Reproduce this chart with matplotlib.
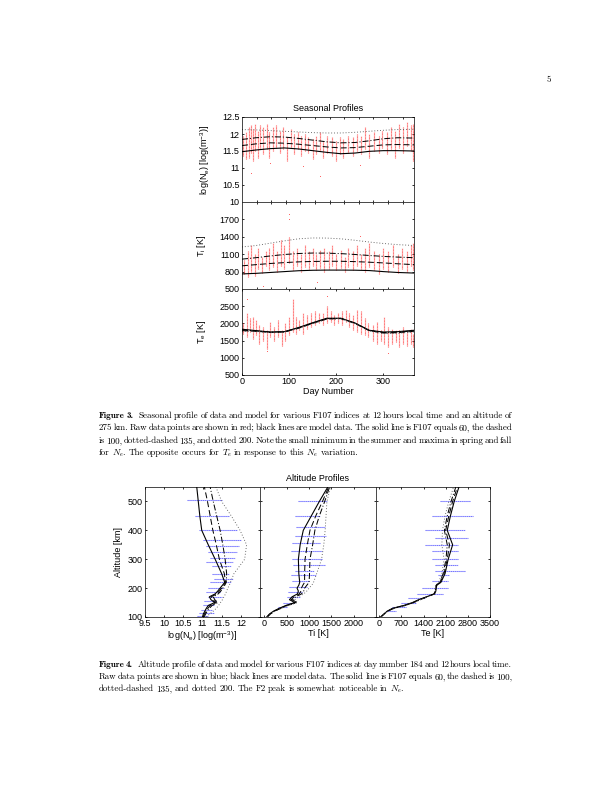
import matplotlib
matplotlib.use('Agg')
import matplotlib.pyplot as plt
import numpy as np

plt.rcParams['font.family'] = ['Liberation Sans', 'DejaVu Sans']
plt.rcParams['font.size'] = 9
plt.rcParams['mathtext.fontset'] = 'custom'
plt.rcParams['mathtext.rm'] = 'Liberation Sans'
plt.rcParams['mathtext.it'] = 'Liberation Sans:italic'
plt.rcParams['xtick.direction'] = 'in'
plt.rcParams['ytick.direction'] = 'in'
plt.rcParams['xtick.top'] = True
plt.rcParams['ytick.right'] = True
plt.rcParams['xtick.major.size'] = 2.2
plt.rcParams['ytick.major.size'] = 2.2
plt.rcParams['xtick.major.pad'] = 2.5
plt.rcParams['ytick.major.pad'] = 2.5
plt.rcParams['axes.linewidth'] = 0.7

# ---- seasonal model (F107 = 60, 100, 135, 200)
days_m = [0, 30, 60, 90, 120, 150, 180, 210, 240, 270, 300, 330, 365]
ne_60 = [11.48, 11.53, 11.57, 11.59, 11.56, 11.51, 11.46, 11.42, 11.44, 11.49, 11.51, 11.51, 11.50]
ne_100 = [11.66, 11.71, 11.74, 11.73, 11.70, 11.66, 11.62, 11.59, 11.60, 11.64, 11.68, 11.69, 11.68]
ne_135 = [11.84, 11.89, 11.92, 11.91, 11.87, 11.82, 11.77, 11.74, 11.75, 11.80, 11.86, 11.89, 11.88]
ne_200 = [12.13, 12.12, 12.10, 12.08, 12.06, 12.04, 12.03, 12.03, 12.05, 12.08, 12.11, 12.13, 12.14]
ti_60 = [760, 770, 785, 800, 815, 823, 826, 826, 824, 818, 800, 785, 775]
ti_100 = [900, 920, 940, 955, 968, 975, 978, 978, 972, 962, 950, 935, 920]
ti_135 = [1015, 1040, 1070, 1095, 1112, 1120, 1118, 1110, 1095, 1078, 1062, 1050, 1040]
ti_200 = [1225, 1250, 1290, 1330, 1365, 1380, 1378, 1365, 1340, 1310, 1285, 1265, 1250]
te_60 = [1830, 1790, 1750, 1760, 1880, 2020, 2150, 2150, 2010, 1800, 1750, 1760, 1800]
te_100 = [1790, 1770, 1740, 1750, 1860, 2000, 2130, 2140, 2000, 1790, 1720, 1730, 1770]
te_135 = [1810, 1780, 1745, 1755, 1870, 2010, 2140, 2145, 2005, 1795, 1735, 1745, 1785]
te_200 = [1770, 1760, 1730, 1745, 1850, 1990, 2120, 2130, 1990, 1780, 1700, 1710, 1750]

# ---- seasonal raw data: vertical streaks (day, low, high)
ne_day = [3, 8, 14, 20, 24, 28, 33, 38, 45, 52, 58, 66, 73, 80, 88, 95, 103, 110, 118, 125,
          133, 140, 150, 158, 165, 172, 180, 190, 200, 208, 215, 225, 235, 245, 253, 262,
          270, 280, 290, 298, 307, 316, 325, 333, 342, 350, 358, 363]
ne_lo = [11.35, 11.25, 11.3, 11.45, 11.2, 11.5, 11.3, 11.6, 11.4, 11.55, 11.3, 11.5, 11.6, 11.45,
         11.55, 11.2, 11.6, 11.4, 11.55, 11.35, 11.5, 11.45, 11.25, 11.4, 11.5, 11.3, 11.45, 11.35,
         11.2, 11.4, 11.3, 11.45, 11.35, 11.5, 11.4, 11.55, 11.3, 11.5, 11.45, 11.6, 11.4, 11.55,
         11.3, 11.6, 11.45, 11.65, 11.5, 11.2]
ne_hi = [11.95, 12.05, 12.2, 12.25, 12.15, 12.3, 12.1, 12.25, 12.2, 12.3, 12.05, 12.2, 12.25, 12.1,
         12.2, 11.9, 12.15, 12.0, 12.05, 11.95, 12.0, 11.9, 11.85, 11.95, 12.05, 11.8, 11.95, 11.9,
         11.8, 11.9, 11.85, 11.95, 11.9, 12.0, 11.95, 12.2, 12.0, 12.05, 11.95, 12.1, 12.05, 12.2,
         12.1, 12.3, 12.2, 12.35, 12.25, 12.3]
ne_out_day = [20, 130, 165, 250, 60]
ne_out_val = [10.85, 11.05, 10.75, 11.1, 11.15]

ti_day = [5, 12, 20, 27, 35, 42, 50, 58, 66, 74, 82, 90, 100, 108, 116, 125, 133, 142, 150, 158,
          166, 175, 184, 192, 200, 210, 218, 226, 235, 244, 252, 260, 270, 280, 290, 300, 310,
          320, 330, 340, 350, 358, 363]
ti_lo = [750, 700, 800, 720, 850, 780, 900, 820, 880, 800, 900, 850, 950, 820, 900, 800, 880, 850,
         900, 820, 870, 800, 850, 900, 820, 860, 790, 880, 830, 900, 850, 800, 880, 820, 760, 850,
         800, 880, 780, 850, 800, 900, 820]
ti_hi = [1000, 1150, 1250, 1100, 1200, 1050, 1150, 1200, 1300, 1150, 1350, 1250, 1400, 1150, 1200,
         1100, 1250, 1150, 1200, 1100, 1180, 1200, 1150, 1250, 1100, 1180, 1050, 1200, 1150, 1250,
         1100, 1200, 1300, 1150, 1100, 1200, 1150, 1250, 1100, 1200, 1150, 1250, 1300]
ti_out_day = [100, 100, 45, 160, 250]
ti_out_val = [1800, 1700, 560, 620, 1420]

te_day = [3, 10, 17, 24, 30, 37, 45, 52, 60, 68, 76, 85, 92, 100, 108, 115, 122, 130, 138, 146,
          155, 163, 172, 180, 188, 196, 204, 212, 220, 228, 236, 244, 252, 260, 268, 278, 286,
          294, 302, 310, 318, 326, 334, 342, 350, 358, 363]
te_lo = [1700, 1600, 1750, 1550, 1650, 1400, 1500, 1250, 1600, 1500, 1600, 1350, 1500, 1650, 1750,
         1700, 1800, 1700, 1850, 1900, 1950, 2000, 1950, 2000, 2050, 1950, 2000, 1950, 2050, 1900,
         1800, 1750, 1700, 1650, 1600, 1500, 1400, 1500, 1400, 1300, 1400, 1450, 1300, 1400, 1350,
         1400, 1300]
te_hi = [2000, 2300, 2150, 2200, 2100, 1950, 1900, 1800, 2050, 1900, 2100, 1800, 2000, 2200, 2700,
         2200, 2100, 2300, 2250, 2300, 2350, 2300, 2300, 2500, 2350, 2250, 2300, 2350, 2400, 2300,
         2250, 2400, 2350, 2150, 2000, 1950, 2050, 1800, 2200, 1900, 1850, 1800, 1800, 1900, 1750,
         1850, 1700]
te_out_day = [10, 180, 52, 310]
te_out_val = [2700, 2800, 1200, 1150]

# ---- altitude model (day 184, 12 LT)
alt_m = [100, 110, 120, 130, 140, 150, 160, 170, 180, 190, 200, 210, 220, 250, 300, 350, 400, 450, 500, 550]
ane_60 = [11.0, 11.02, 11.06, 11.1, 11.15, 11.32, 11.22, 11.18, 11.33, 11.4, 11.46, 11.52, 11.58, 11.5,
          11.33, 11.15, 10.98, 10.93, 10.89, 10.85]
ane_100 = [11.02, 11.05, 11.09, 11.14, 11.2, 11.36, 11.27, 11.23, 11.37, 11.44, 11.5, 11.55, 11.6, 11.57,
           11.44, 11.36, 11.27, 11.2, 11.13, 11.05]
ane_135 = [11.04, 11.08, 11.12, 11.18, 11.25, 11.4, 11.32, 11.28, 11.41, 11.48, 11.53, 11.58, 11.62, 11.63,
           11.59, 11.53, 11.46, 11.37, 11.28, 11.2]
ane_200 = [11.1, 11.18, 11.28, 11.36, 11.42, 11.47, 11.52, 11.56, 11.6, 11.63, 11.66, 11.7, 11.73, 11.82,
           12.1, 12.15, 11.98, 11.75, 11.5, 11.35]
ati_60 = [50, 110, 200, 330, 480, 680, 560, 620, 740, 760, 730, 770, 790, 770, 760, 800, 870, 1050, 1230, 1420]
ati_100 = [60, 120, 215, 350, 500, 700, 600, 660, 780, 820, 830, 860, 900, 900, 910, 960, 1020, 1150, 1300, 1440]
ati_135 = [65, 130, 225, 365, 520, 720, 630, 700, 830, 880, 900, 950, 1000, 1010, 1020, 1080, 1130, 1230, 1350, 1460]
ati_200 = [70, 140, 240, 380, 540, 740, 680, 760, 880, 950, 1000, 1060, 1100, 1170, 1280, 1330, 1360, 1380, 1400, 1480]
ate_60 = [50, 150, 250, 420, 780, 1050, 1250, 1500, 1750, 1790, 1800, 1820, 1950, 2080, 2180, 2320, 2150, 2250, 2370, 2520]
ate_100 = [50, 150, 260, 440, 800, 1070, 1270, 1510, 1740, 1780, 1790, 1810, 1930, 2050, 2150, 2220, 2100, 2200, 2320, 2470]
ate_135 = [50, 150, 270, 460, 820, 1090, 1290, 1520, 1730, 1770, 1780, 1800, 1910, 2020, 2110, 2150, 2060, 2150, 2270, 2420]
ate_200 = [50, 160, 280, 480, 850, 1110, 1310, 1530, 1720, 1760, 1770, 1780, 1880, 1980, 2050, 1980, 2000, 2080, 2200, 2350]

# ---- altitude raw data: horizontal streaks (altitude, low, high)
bne_alt = [505, 450, 400, 365, 345, 325, 305, 290, 275, 250, 230, 220, 200, 185, 170, 155, 140, 125, 115, 105]
bne_lo = [10.6, 10.8, 10.9, 11.0, 11.1, 11.15, 11.2, 11.1, 11.25, 11.25, 11.3, 11.2, 11.15, 11.1, 11.15,
          11.05, 11.0, 10.95, 10.9, 10.85]
bne_hi = [11.5, 11.7, 11.9, 12.0, 11.95, 11.9, 11.85, 11.8, 11.75, 11.7, 11.8, 11.75, 11.55, 11.45, 11.5,
          11.35, 11.3, 11.25, 11.3, 11.15]
bti_alt = [500, 450, 410, 380, 355, 330, 300, 280, 260, 245, 225, 205, 185, 170, 150, 135]
bti_lo = [750, 690, 700, 690, 620, 600, 620, 650, 680, 600, 620, 560, 530, 500, 420, 300]
bti_hi = [1400, 1245, 1350, 1380, 1245, 1300, 1300, 1350, 1100, 1150, 1000, 950, 850, 800, 650, 500]
bte_alt = [500, 450, 400, 375, 350, 330, 300, 280, 260, 245, 225, 200, 180, 165, 150, 135, 120]
bte_lo = [1920, 1660, 1450, 1750, 1450, 1660, 1660, 1760, 1760, 1850, 1660, 1340, 1180, 920, 700, 420, 220]
bte_hi = [2870, 2970, 2710, 2800, 2500, 2500, 2500, 2500, 2700, 2200, 2180, 2180, 2020, 1440, 1150, 850, 520]

# ---- ticks
month_ticks = [31, 62, 93, 124, 155, 186, 217, 248, 279, 310, 341]
day_ticks = [0, 100, 200, 300]
ne_ticks = [10, 10.5, 11, 11.5, 12, 12.5]
ti_ticks = [500, 800, 1100, 1400, 1700]
te_ticks = [500, 1000, 1500, 2000, 2500]
alt_ticks = [100, 200, 300, 400, 500]
ane_ticks = [9.5, 10, 10.5, 11, 11.5, 12]
ati_ticks = [0, 500, 1000, 1500, 2000]
ate_ticks = [0, 700, 1400, 2100, 2800, 3500]

styles = ['-', (0, (6, 3)), (0, (6, 2, 1, 2)), (0, (1, 2.2))]
colors = ['k', 'k', 'k', '0.35']
widths = [1.1, 1.0, 1.0, 0.9]

W, H = 612, 792
fig = plt.figure(figsize=(W / 72, H / 72), dpi=72)


def box(x0, y0, x1, y1):
    return [x0 / W, 1 - y1 / H, (x1 - x0) / W, (y1 - y0) / H]


# ================= Figure 3: seasonal profiles
ax1 = fig.add_axes(box(242, 117, 414, 202))
ax2 = fig.add_axes(box(242, 202, 414, 289))
ax3 = fig.add_axes(box(242, 289, 414, 375))

red = '#ff2020'
for ax, d, lo, hi, od, ov in [(ax1, ne_day, ne_lo, ne_hi, ne_out_day, ne_out_val),
                              (ax2, ti_day, ti_lo, ti_hi, ti_out_day, ti_out_val),
                              (ax3, te_day, te_lo, te_hi, te_out_day, te_out_val)]:
    ax.vlines(d, lo, hi, color=red, lw=1.3, alpha=0.3)
    ax.vlines(d, lo, hi, color=red, lw=0.6, alpha=0.9, linestyles=(0, (1.2, 1.3)))
    ax.plot(od, ov, '.', color=red, ms=1.5, mew=0)

for ax, series in [(ax1, [ne_60, ne_100, ne_135, ne_200]),
                   (ax2, [ti_60, ti_100, ti_135, ti_200]),
                   (ax3, [te_60, te_100, te_135, te_200])]:
    for s, ls, c, lw in zip(series, styles, colors, widths):
        ax.plot(days_m, s, ls=ls, color=c, lw=lw)
    ax.set_xlim(0, 365)

ax1.set_ylim(10, 12.5)
ax1.set_yticks(ne_ticks)
ax1.set_yticklabels(['10', '10.5', '11', '11.5', '12', '12.5'])
ax2.set_ylim(500, 2000)
ax2.set_yticks(ti_ticks)
ax3.set_ylim(500, 3000)
ax3.set_yticks(te_ticks)
for ax in (ax1, ax2):
    ax.set_xticks(month_ticks)
    ax.set_xticklabels([])
ax3.set_xticks(day_ticks)

ax1.set_ylabel('log(N$_\\mathrm{e}$) [log(m$^{-3}$)]')
ax2.set_ylabel('T$_\\mathrm{i}$ [K]')
ax3.set_ylabel('T$_\\mathrm{e}$ [K]')
ax1.yaxis.set_label_coords(-0.172, 0.5)
ax2.yaxis.set_label_coords(-0.2, 0.5)
ax3.yaxis.set_label_coords(-0.2, 0.5)
ax3.set_xlabel('Day Number', labelpad=1)
ax1.set_title('Seasonal Profiles', fontsize=9, pad=6)

# ================= Figure 4: altitude profiles
bx1 = fig.add_axes(box(145, 487, 260, 617))
bx2 = fig.add_axes(box(260, 487, 376, 617))
bx3 = fig.add_axes(box(376, 487, 490, 617))

blue = '#2020ff'
for ax, a, lo, hi in [(bx1, bne_alt, bne_lo, bne_hi),
                      (bx2, bti_alt, bti_lo, bti_hi),
                      (bx3, bte_alt, bte_lo, bte_hi)]:
    ax.hlines(a, lo, hi, color=blue, lw=1.2, alpha=0.2)
    ax.hlines(a, lo, hi, color=blue, lw=0.6, alpha=0.85, linestyles=(0, (2, 1.2)))

for ax, series in [(bx1, [ane_60, ane_100, ane_135, ane_200]),
                   (bx2, [ati_60, ati_100, ati_135, ati_200]),
                   (bx3, [ate_60, ate_100, ate_135, ate_200])]:
    for s, ls, c, lw in zip(series, styles, colors, widths):
        ax.plot(s, alt_m, ls=ls, color=c, lw=lw)
    ax.set_ylim(100, 550)
    ax.set_yticks(alt_ticks)

bx1.set_xlim(9.5, 12.5)
bx1.set_xticks(ane_ticks)
bx1.set_xticklabels(['9.5', '10', '10.5', '11', '11.5', '12'])
bx2.set_xlim(-100, 2500)
bx2.set_xticks(ati_ticks)
bx3.set_xlim(-100, 3500)
bx3.set_xticks(ate_ticks)
bx2.set_yticklabels([])
bx3.set_yticklabels([])

bx1.set_ylabel('Altitude [km]')
bx1.yaxis.set_label_coords(-0.19, 0.5)
bx1.set_xlabel('log(N$_\\mathrm{e}$) [log(m$^{-3}$)]', labelpad=1)
bx2.set_xlabel('Ti [K]', labelpad=1)
bx3.set_xlabel('Te [K]', labelpad=1)
bx2.set_title('Altitude Profiles', fontsize=9, pad=6)

# ================= page text
cap3 = ['Figure 3. Seasonal profile of data and model for various F107 indices at 12 hours local time and an altitude of',
        '275 km. Raw data points are shown in red; black lines are model data. The solid line is F107 equals 60, the dashed',
        'is 100, dotted-dashed 135, and dotted 200. Note the small minimum in the summer and maxima in spring and fall',
        'for $N_e$. The opposite occurs for $T_e$ in response to this $N_e$ variation.']
cap4 = ['Figure 4. Altitude profile of data and model for various F107 indices at day number 184 and 12 hours local time.',
        'Raw data points are shown in blue; black lines are model data. The solid line is F107 equals 60, the dashed is 100,',
        'dotted-dashed 135, and dotted 200. The F2 peak is somewhat noticeable in $N_e$.']

renderer = fig.canvas.get_renderer()
X0, X1 = 99, 512
FS = 9.0


def caption(lines, y_first, step):
    for i, line in enumerate(lines):
        words = line.split(' ')
        ts = []
        for j, w in enumerate(words):
            fam = 'cmb10' if (i == 0 and j < 2) else 'cmr10'
            t = fig.text(0, 0, w, family=[fam, 'DejaVu Serif'], size=FS,
                         math_fontfamily='cm', va='baseline', ha='left')
            ts.append(t)
        ws = [t.get_window_extent(renderer).width for t in ts]
        extra = [3.5 if (i == 0 and k == 1) else 0.0 for k in range(len(ts))]
        if i == len(lines) - 1:
            gap = 2.4
        else:
            gap = (X1 - X0 - sum(ws) - sum(extra)) / (len(ts) - 1)
        y = y_first + i * step
        x = X0
        for t, w, e in zip(ts, ws, extra):
            t.set_position((x / W, 1 - y / H))
            x += w + gap + e


caption(cap3, 418, 12.4)
caption(cap4, 667, 12.2)
fig.text(549 / W, 1 - 82 / H, '5', family=['cmr10', 'DejaVu Serif'], size=FS, ha='center', va='baseline')

fig.savefig('out.png', dpi=72)
